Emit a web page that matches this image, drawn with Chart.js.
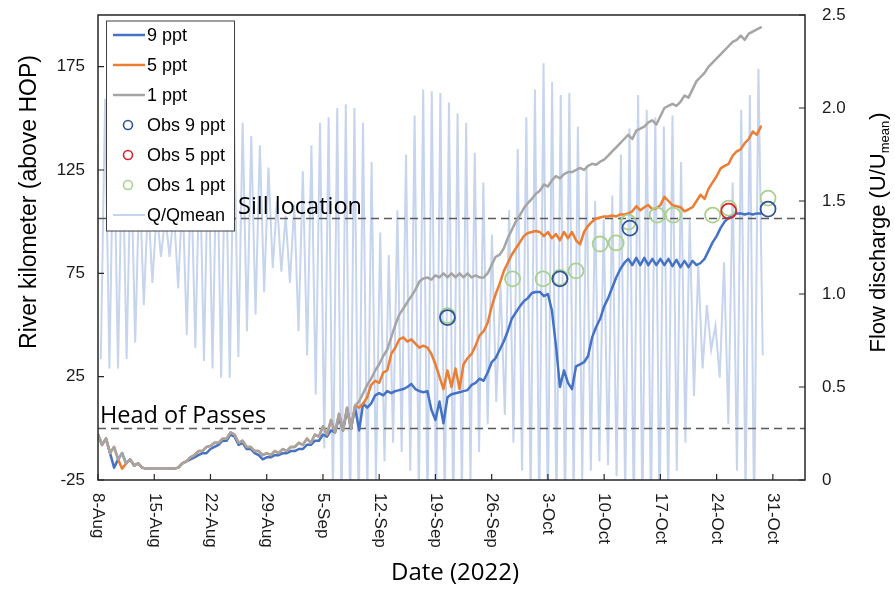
<!DOCTYPE html>
<html>
<head>
<meta charset="utf-8">
<script src="https://cdn.jsdelivr.net/npm/chart.js@4.4.1/dist/chart.umd.min.js"></script>
<style>
  html, body { margin: 0; padding: 0; background: #fff; }
  #wrap { width: 895px; height: 589px; }
</style>
</head>
<body>
<div id="wrap"><canvas id="salinityChart" width="895" height="589"></canvas></div>
<script>
// days after 8-Aug-2022, model output every half day
const modelStep = 0.5;

const km1ppt = [
  -3, -8, -5, -12, -9, -15, -12, -17, -15, -18,
  -17, -19, -19.5, -19.5, -19.5, -19.5, -19.5, -19.5, -19.5, -19.5,
  -19, -17, -16, -14, -13, -11, -11, -9, -8.5, -7,
  -7, -5, -5, -2, -3, -7, -6, -9, -9, -11,
  -11, -13, -12, -13, -11, -12, -10, -11, -9, -9,
  -7, -8, -5, -7, -3, -4, 1, -3, 4, -2,
  7, -1, 10, 0, 11, 13, 17, 21, 24, 28,
  31, 35, 38, 44, 50, 55, 58, 61, 64, 67,
  71, 72.5, 73, 72, 74, 73, 75, 73, 75, 73,
  75, 73, 75, 73, 74, 73, 73, 75, 79, 83,
  84, 87, 92, 96, 100, 103, 106.5, 109, 111, 113.5,
  115, 118, 117, 120, 122, 121, 123, 124, 124, 125,
  126, 125, 127, 128, 127.5, 129, 130, 132, 134, 136,
  138, 140, 142, 140, 144, 145, 146, 148, 149, 147,
  151, 155, 156, 157, 156, 158, 161, 160, 164, 168,
  170, 172, 175, 177, 179, 181, 183, 185, 187, 188,
  190, 188, 191, 192, 193, 194
];

const km5ppt = [
  -3, -8, -5, -12, -9, -15, -19.5, -17, -15, -18,
  -17, -19, -19.5, -19.5, -19.5, -19.5, -19.5, -19.5, -19.5, -19.5,
  -19, -17, -16, -14, -13, -11, -11, -9, -8.5, -7,
  -7, -5, -5, -2, -3, -7, -6, -9, -9, -11,
  -11, -13, -12, -13, -11, -12, -10, -11, -9, -9,
  -7, -8, -5, -7, -3, -4, 1, -3, 4, -2,
  7, -1, 10, 0, 11, 10, 12, 15, 21, 23,
  22, 27, 28, 36, 39, 43, 44, 42, 43, 41,
  39, 40, 39, 36, 31, 25, 19, 28, 20, 29,
  19, 31, 34, 36, 40, 45, 47, 51, 59, 65,
  70, 76, 80, 84, 87, 90, 93, 94.5, 95, 95.5,
  95, 93, 95, 92, 94, 91, 95, 92, 95, 91,
  89, 95, 98, 100, 101.5, 102, 102.5, 102.5, 103, 102.5,
  103.5, 103.5, 104, 105, 107.5, 105.5, 107, 108, 106, 106.5,
  108, 112, 110, 108, 107.5, 107, 105, 106, 107, 110,
  113, 111, 116, 119, 122, 125.8, 127, 128, 132, 134,
  135, 138, 140, 143.6, 142, 146
];

const km9ppt = [
  -3, -8, -5, -12, -19, -15, -12, -17, -15, -18,
  -17, -19, -19.5, -19.5, -19.5, -19.5, -19.5, -19.5, -19.5, -19.5,
  -19, -17, -16, -15, -14, -13, -12, -12, -10, -9,
  -8, -6, -6, -3, -4, -8, -7, -10, -10, -12,
  -13, -15, -14, -14, -13, -13, -12, -12, -11, -11,
  -10, -10, -8, -8, -6, -6, -3, -4, -1, -2,
  5, -1, 9, 0, 10, -1, 12, 10, 12, 16,
  17, 16, 18, 17, 18, 18.5, 19, 20, 21.5, 19,
  18, 17.5, 18, 9, 4, 13, 2.5, 15, 16.5, 17,
  17.5, 18, 18.5, 21, 22, 24, 23, 27, 32, 34,
  38, 42, 47, 53, 56, 59, 61.5, 63, 65.5, 66,
  66, 64, 65, 57, 40, 20, 28, 22, 19, 30,
  31, 32, 35, 44, 49, 53, 59, 63, 68, 73,
  77, 80, 82, 79, 82.5, 79, 82.5, 79, 82, 79,
  82, 79, 82, 78.5, 81.5, 78, 81, 78, 81, 79,
  80, 82, 86, 90, 93, 97, 100, 102, 103, 104,
  104, 103.5, 104, 103.5, 104, 104
];

// field observations: day after 8-Aug, river km
const obs9Day = [43.5, 57.5, 66.2, 83.4];
const obs9Km = [53.6, 72.3, 96.9, 106.1];
const obs5Day = [78.5];
const obs5Km = [105.1];
const obs1Day = [43.5, 51.6, 55.4, 57.5, 59.5, 62.5, 64.5, 66.0, 69.6, 71.6, 76.5, 78.5, 83.4];
const obs1Km = [54.5, 72.3, 72.3, 73, 76.2, 89.2, 89.7, 99.8, 103.2, 103.2, 103.2, 106.6, 111.4];

// Q/Qmean: alternating tidal troughs and peaks
const qStartDay = 0.35;
const qHalfCycle = 0.535;
const qTroughs = [
  0.65, 0.6, 0.6, 0.65, 0.74, 0.94, 1.06, 1.2, 1.2, 1.03,
  0.78, 0.71, 0.64, 0.6, 0.55, 0.55, 0.66, 0.8, 0.89, 1.01,
  1.14, 1.12, 1.06, 0.8, 0.67, 0.46, 0.17, -0.1, -0.2, -0.2,
  -0.2, -0.1, 0, 0.1, 0.2, 0.15, 0.05, -0.1, -0.2, -0.2,
  -0.2, -0.2, -0.1, 0, 0.15, 0.3, 0.42, 0.35, 0.2, 0.05,
  -0.1, -0.2, -0.2, -0.2, -0.2, -0.1, 0, 0.05, 0.1, 0.08,
  0.02, -0.1, -0.2, -0.2, -0.2, -0.2, -0.1, 0.05, 0.2, 0.45,
  0.6, 0.7, 0.55, 0.3, 0.05, -0.1, -0.2, 0.67
];
const qPeaks = [
  2.05, 1.95, 1.85, 1.75, 1.62, 1.5, 1.45, 1.42, 1.45, 1.55,
  1.65, 1.75, 1.82, 1.88, 1.92, 1.95, 1.92, 1.85, 1.8, 1.68,
  1.5, 1.42, 1.48, 1.66, 1.8, 1.92, 1.95, 2.0, 2.02, 2.0,
  1.92, 1.71, 1.33, 1.21, 1.45, 1.75, 1.96, 2.1, 2.09, 2.08,
  2.03, 1.97, 1.92, 1.76, 1.6, 1.32, 1.05, 1.45, 1.78, 1.95,
  2.1, 2.24, 2.14, 2.07, 2.08, 1.9, 1.69, 1.5, 1.4, 1.53,
  1.75, 1.89, 2.07, 1.99, 1.95, 1.9, 1.96, 1.71, 1.4, 1.15,
  0.94, 0.83, 1.17, 1.6, 1.99, 2.07, 2.21
];

const tickDays = [0, 7, 14, 21, 28, 35, 42, 49, 56, 63, 70, 77, 84];
const tickLabels = ['8-Aug', '15-Aug', '22-Aug', '29-Aug', '5-Sep', '12-Sep', '19-Sep',
  '26-Sep', '3-Oct', '10-Oct', '17-Oct', '24-Oct', '31-Oct'];
const kmTicks = [-25, 25, 75, 125, 175];
const refLines = [{ km: 0, label: 'Head of Passes' }, { km: 101.7, label: 'Sill location' }];

const sans = '"Liberation Sans", Arial, sans-serif';
const openSans = '"Open Sans", "Noto Sans", sans-serif';

const toSeries = (vals) => vals.map((v, i) => ({ x: i * modelStep, y: v }));
const toPoints = (days, kms) => days.map((d, i) => ({ x: d, y: kms[i] }));

const qFlow = [];
for (let k = 0; k < qTroughs.length; k++) {
  qFlow.push({ x: qStartDay + 2 * k * qHalfCycle, y: qTroughs[k] });
  if (k < qPeaks.length) qFlow.push({ x: qStartDay + (2 * k + 1) * qHalfCycle, y: qPeaks[k] });
}

const lineStyle = (color) => ({
  borderColor: color, backgroundColor: color, borderWidth: 2.5, pointRadius: 0,
  tension: 0, borderJoinStyle: 'round', borderCapStyle: 'round', fill: false
});
const obsStyle = (color) => ({
  showLine: false, pointRadius: 7.5, pointHoverRadius: 7.5, pointBorderWidth: 1.8,
  pointBorderColor: color, borderColor: color, pointBackgroundColor: 'rgba(0,0,0,0)'
});

// keep tick labels from pushing the plot area around
const fixVertical = (width) => (s) => { s.width = width; s.paddingTop = 0; s.paddingBottom = 0; };

const decor = {
  id: 'decor',
  afterDatasetDraw(chart, args) {
    // dashed reference lines sit just above the discharge trace
    if (chart.data.datasets[args.index].label !== 'Q/Qmean') return;
    const { ctx, chartArea: a, scales: { y } } = chart;
    ctx.save();
    ctx.strokeStyle = '#5a5a5a';
    ctx.lineWidth = 1.5;
    ctx.setLineDash([8, 5]);
    refLines.forEach(r => {
      const py = Math.round(y.getPixelForValue(r.km)) + 0.5;
      ctx.beginPath();
      ctx.moveTo(a.left, py);
      ctx.lineTo(a.right, py);
      ctx.stroke();
    });
    ctx.restore();
  },
  afterDraw(chart) {
    const { ctx, chartArea: a, scales: { x, y, y2 } } = chart;
    ctx.save();

    // frame and inward ticks
    ctx.strokeStyle = '#262626';
    ctx.lineWidth = 1.5;
    ctx.strokeRect(a.left, a.top, a.right - a.left, a.bottom - a.top);
    ctx.lineWidth = 1.2;
    ctx.beginPath();
    kmTicks.forEach(v => {
      const py = y.getPixelForValue(v);
      ctx.moveTo(a.left, py); ctx.lineTo(a.left + 6, py);
    });
    y2.ticks.forEach(t => {
      const py = y2.getPixelForValue(t.value);
      ctx.moveTo(a.right, py); ctx.lineTo(a.right - 6, py);
    });
    tickDays.forEach(d => {
      const px = x.getPixelForValue(d);
      ctx.moveTo(px, a.bottom); ctx.lineTo(px, a.bottom - 6);
    });
    ctx.stroke();

    // date labels, turned clockwise
    ctx.fillStyle = '#1a1a1a';
    ctx.font = '17px ' + sans;
    ctx.textAlign = 'left';
    ctx.textBaseline = 'middle';
    tickDays.forEach((d, i) => {
      ctx.save();
      ctx.translate(x.getPixelForValue(d), a.bottom + 13);
      ctx.rotate(Math.PI / 2);
      ctx.fillText(tickLabels[i], 0, 0);
      ctx.restore();
    });

    // axis titles
    ctx.fillStyle = '#000';
    ctx.textAlign = 'center';
    ctx.font = '24px ' + openSans;
    ctx.fillText('Date (2022)', 455, 573);

    ctx.save();
    ctx.translate(30, 202);
    ctx.rotate(-Math.PI / 2);
    ctx.font = '23px ' + sans;
    ctx.fillText('River kilometer (above HOP)', 0, 0);
    ctx.restore();

    ctx.save();
    ctx.translate(879, 233);
    ctx.rotate(-Math.PI / 2);
    ctx.textAlign = 'left';
    const big = '22px ' + sans, small = '13px ' + sans;
    ctx.font = big;
    const w1 = ctx.measureText('Flow discharge (U/U').width;
    const w3 = ctx.measureText(')').width;
    ctx.font = small;
    const w2 = ctx.measureText('mean').width;
    const cx = -(w1 + w2 + w3) / 2;
    ctx.font = big;
    ctx.fillText('Flow discharge (U/U', cx, 0);
    ctx.font = small;
    ctx.fillText('mean', cx + w1, 6);
    ctx.font = big;
    ctx.fillText(')', cx + w1 + w2 + 1, 0);
    ctx.restore();

    // reference line labels
    ctx.textAlign = 'left';
    ctx.textBaseline = 'alphabetic';
    ctx.font = '23.5px ' + openSans;
    ctx.fillText('Head of Passes', a.left + 2, y.getPixelForValue(refLines[0].km) - 5);
    ctx.fillText('Sill location', 238, y.getPixelForValue(refLines[1].km) - 4);

    // legend box
    const bx = 106.5, by = 21, bw = 128, bh = 210;
    ctx.fillStyle = '#fff';
    ctx.fillRect(bx, by, bw, bh);
    ctx.strokeStyle = '#404040';
    ctx.lineWidth = 1;
    ctx.strokeRect(bx, by, bw, bh);
    ctx.font = '18px ' + sans;
    ctx.textBaseline = 'middle';
    chart.data.datasets.forEach((ds, i) => {
      const ry = by + 14 + i * 30;
      if (ds.showLine === false) {
        ctx.strokeStyle = ds.pointBorderColor;
        ctx.lineWidth = 1.6;
        ctx.beginPath();
        ctx.arc(128, ry, 4.5, 0, Math.PI * 2);
        ctx.stroke();
      } else {
        ctx.strokeStyle = ds.borderColor;
        ctx.lineWidth = ds.borderWidth;
        ctx.beginPath();
        ctx.moveTo(113, ry);
        ctx.lineTo(145, ry);
        ctx.stroke();
      }
      ctx.fillStyle = '#000';
      ctx.fillText(ds.label, 147, ry + 1);
    });
    ctx.restore();
  }
};

new Chart(document.getElementById('salinityChart'), {
  type: 'line',
  data: {
    datasets: [
      { label: '9 ppt', data: toSeries(km9ppt), yAxisID: 'y', order: 5, ...lineStyle('#4472c4') },
      { label: '5 ppt', data: toSeries(km5ppt), yAxisID: 'y', order: 4, ...lineStyle('#ed7d31') },
      { label: '1 ppt', data: toSeries(km1ppt), yAxisID: 'y', order: 3, ...lineStyle('#a5a5a5') },
      { label: 'Obs 9 ppt', data: toPoints(obs9Day, obs9Km), yAxisID: 'y', order: 1, ...obsStyle('#2f5597') },
      { label: 'Obs 5 ppt', data: toPoints(obs5Day, obs5Km), yAxisID: 'y', order: 0, ...obsStyle('#e0202a') },
      { label: 'Obs 1 ppt', data: toPoints(obs1Day, obs1Km), yAxisID: 'y', order: 2, ...obsStyle('#a9d18e') },
      { label: 'Q/Qmean', data: qFlow, yAxisID: 'y2', order: 6,
        borderColor: '#c6d4ee', backgroundColor: '#c6d4ee', borderWidth: 2, pointRadius: 0, tension: 0 }
    ]
  },
  options: {
    responsive: false,
    animation: false,
    layout: { padding: { top: 15, left: 0, right: 0, bottom: 0 } },
    plugins: { legend: { display: false }, tooltip: { enabled: false } },
    scales: {
      x: {
        type: 'linear', min: 0, max: 88,
        ticks: { display: false },
        grid: { display: false, drawTicks: false },
        border: { display: false },
        afterFit(s) { s.height = 109; s.paddingLeft = 0; s.paddingRight = 0; }
      },
      y: {
        position: 'left', min: -25, max: 200,
        afterBuildTicks(s) { s.ticks = kmTicks.map(v => ({ value: v })); },
        ticks: { padding: 13, color: '#1a1a1a', font: { family: sans, size: 17 } },
        grid: { display: false, drawTicks: false },
        border: { display: false },
        afterFit: fixVertical(98)
      },
      y2: {
        position: 'right', min: 0, max: 2.5,
        ticks: { stepSize: 0.5, padding: 17, color: '#1a1a1a', font: { family: sans, size: 17 } },
        grid: { display: false, drawTicks: false },
        border: { display: false },
        afterFit: fixVertical(90)
      }
    }
  },
  plugins: [decor]
});
</script>
</body>
</html>
